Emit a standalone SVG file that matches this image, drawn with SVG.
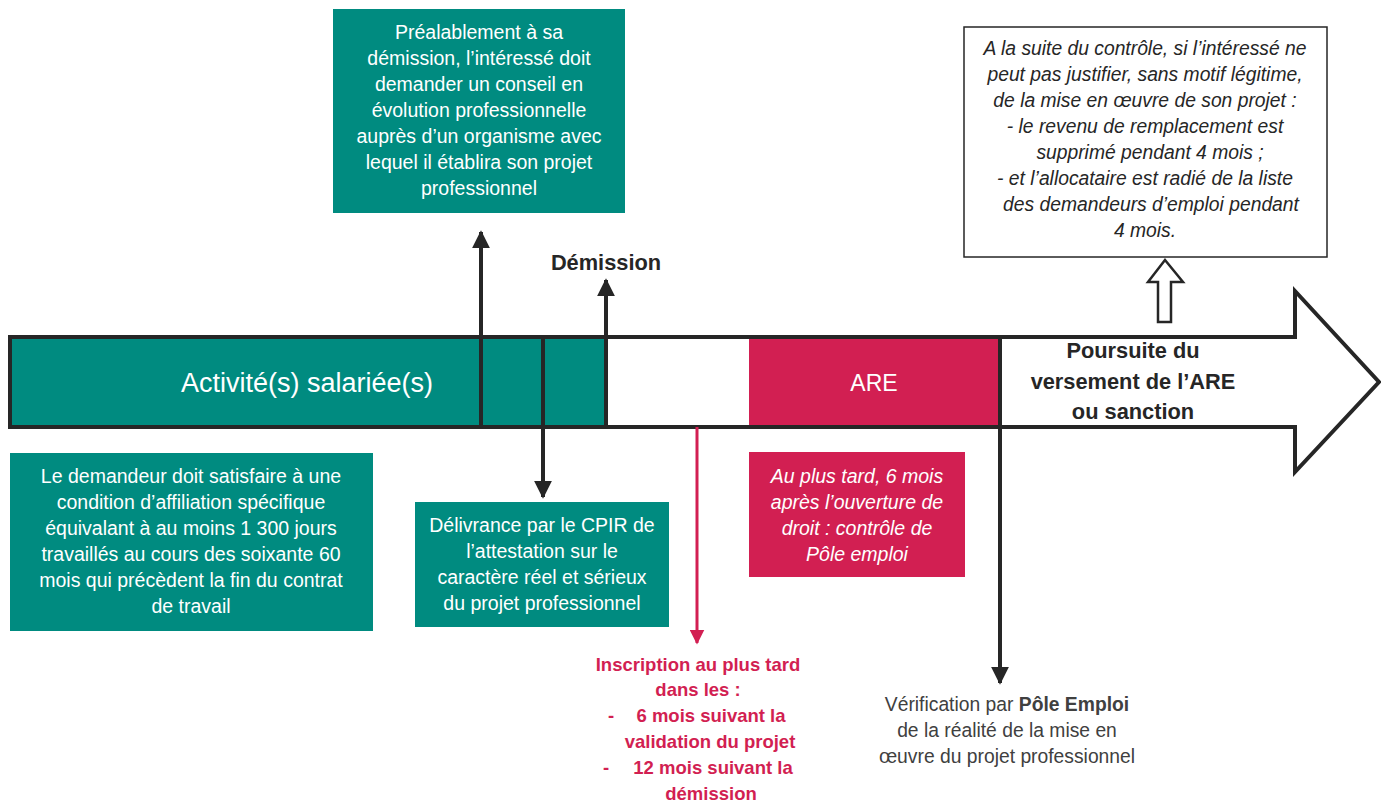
<svg xmlns="http://www.w3.org/2000/svg" width="1381" height="803" viewBox="0 0 1381 803">
<defs>
<style>
text{font-family:"Liberation Sans","Noto Sans",sans-serif;text-anchor:middle}
.w{fill:#ffffff;font-size:19.5px}
.wi{fill:#ffffff;font-size:19.5px;font-style:italic}
.g{fill:#404040;font-size:19.3px}
.gi{fill:#262626;font-size:19.3px;font-style:italic}
.p{fill:#d21f52;font-size:18.5px;font-weight:bold}
.b{fill:#262626;font-size:21.8px;font-weight:bold}
.teal{fill:#008b80}
.pink{fill:#d21f52}
.ln{stroke:#262626;stroke-width:4;fill:none}
</style>
<marker id="ah" viewBox="0 0 10 10" refX="9" refY="5" markerWidth="4.5" markerHeight="4.5" orient="auto" markerUnits="strokeWidth"><path d="M0,0 L10,5 L0,10 z" fill="#262626"/></marker>
<marker id="ahp" viewBox="0 0 10 10" refX="9" refY="5" markerWidth="5" markerHeight="5" orient="auto" markerUnits="strokeWidth"><path d="M0,0 L10,5 L0,10 z" fill="#d21f52"/></marker>
</defs>
<rect width="1381" height="803" fill="#ffffff"/>

<g id="timeline">
<rect x="10" y="337" width="596" height="90" class="teal"/>
<rect x="749" y="337" width="250" height="90" class="pink"/>
<path d="M10,337 H1295 V291 L1379,382 L1295,472 V427 H10 Z" class="ln" stroke-width="5" stroke-linejoin="miter"/>
<text x="307" y="392" fill="#ffffff" font-size="27">Activité(s) salariée(s)</text>
<text x="874" y="391" fill="#ffffff" font-size="23">ARE</text>
<text x="1133" y="358" class="b">Poursuite du</text>
<text x="1133" y="389" class="b">versement de l’ARE</text>
<text x="1133" y="419" class="b">ou sanction</text>
</g>

<g id="connectors">
<line x1="481" y1="427" x2="481" y2="232" class="ln" marker-end="url(#ah)"/>
<line x1="543" y1="337" x2="543" y2="497" class="ln" marker-end="url(#ah)"/>
<line x1="606" y1="427" x2="606" y2="280" class="ln" marker-end="url(#ah)"/>
<line x1="697" y1="427" x2="697" y2="643" stroke="#d21f52" stroke-width="3" marker-end="url(#ahp)"/>
<line x1="1000" y1="337" x2="1000" y2="683" class="ln" marker-end="url(#ah)"/>
<path d="M1158,322 V282 H1148 L1165,260 L1183,282 H1171 V322 Z" fill="#ffffff" stroke="#262626" stroke-width="2.5"/>
</g>

<g id="node-prealable">
<rect x="333" y="9" width="292" height="204" class="teal"/>
<text class="w" x="479" y="39">Préalablement à sa</text>
<text class="w" x="479" y="65">démission, l’intéressé doit</text>
<text class="w" x="479" y="91">demander un conseil en</text>
<text class="w" x="479" y="117">évolution professionnelle</text>
<text class="w" x="479" y="143">auprès d’un organisme avec</text>
<text class="w" x="479" y="169">lequel il établira son projet</text>
<text class="w" x="479" y="195">professionnel</text>
</g>

<g id="node-demission">
<text class="b" x="606" y="270">Démission</text>
</g>

<g id="node-sanction">
<rect x="964" y="27" width="363" height="230" fill="#ffffff" stroke="#262626" stroke-width="1.5"/>
<text class="gi" x="1145" y="55">A la suite du contrôle, si l’intéressé ne</text>
<text class="gi" x="1145" y="81">peut pas justifier, sans motif légitime,</text>
<text class="gi" x="1145" y="107">de la mise en œuvre de son projet :</text>
<text class="gi" x="1145" y="133">-  le revenu de remplacement est</text>
<text class="gi" x="1150" y="159">supprimé pendant 4 mois ;</text>
<text class="gi" x="1145" y="185">-   et l’allocataire est radié de la liste</text>
<text class="gi" x="1151" y="211">des demandeurs d’emploi pendant</text>
<text class="gi" x="1145" y="237">4 mois.</text>
</g>

<g id="node-affiliation">
<rect x="10" y="453" width="363" height="178" class="teal"/>
<text class="w" x="191" y="483">Le demandeur doit satisfaire à une</text>
<text class="w" x="191" y="509">condition d’affiliation spécifique</text>
<text class="w" x="191" y="535">équivalant à au moins 1 300 jours</text>
<text class="w" x="191" y="561">travaillés au cours des soixante 60</text>
<text class="w" x="191" y="587">mois qui précèdent la fin du contrat</text>
<text class="w" x="191" y="613">de travail</text>
</g>

<g id="node-cpir">
<rect x="415" y="502" width="254" height="125" class="teal"/>
<text class="w" x="542" y="532">Délivrance par le CPIR de</text>
<text class="w" x="542" y="558">l’attestation sur le</text>
<text class="w" x="542" y="584">caractère réel et sérieux</text>
<text class="w" x="542" y="610">du projet professionnel</text>
</g>

<g id="node-controle">
<rect x="749" y="452" width="216" height="125" class="pink"/>
<text class="wi" x="857" y="483">Au plus tard, 6 mois</text>
<text class="wi" x="857" y="509">après l’ouverture de</text>
<text class="wi" x="857" y="535">droit : contrôle de</text>
<text class="wi" x="857" y="561">Pôle emploi</text>
</g>

<g id="node-inscription">
<text class="p" x="698" y="671">Inscription au plus tard</text>
<text class="p" x="698" y="696">dans les :</text>
<text class="p" x="611" y="722">-</text>
<text class="p" x="711" y="722">6 mois suivant la</text>
<text class="p" x="710" y="748">validation du projet</text>
<text class="p" x="606" y="774">-</text>
<text class="p" x="713" y="774">12 mois suivant la</text>
<text class="p" x="711" y="800">démission</text>
</g>

<g id="node-verification">
<text class="g" x="1007" y="711">Vérification par <tspan font-weight="bold">Pôle Emploi</tspan></text>
<text class="g" x="1007" y="737">de la réalité de la mise en</text>
<text class="g" x="1007" y="763">œuvre du projet professionnel</text>
</g>
</svg>
